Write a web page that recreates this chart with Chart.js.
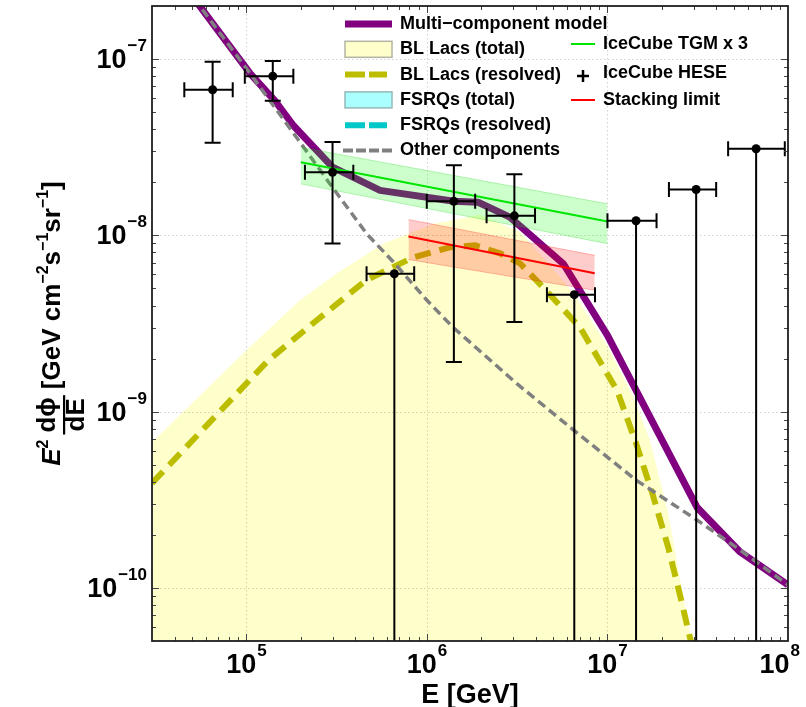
<!DOCTYPE html>
<html lang="en">
<head>
<meta charset="UTF-8">
<title>Diffuse neutrino flux - multi-component model</title>
<script src="https://cdn.jsdelivr.net/npm/chart.js"></script>
<style>
  html, body { margin: 0; padding: 0; background: #ffffff; }
  #wrap { width: 806px; height: 707px; }
</style>
</head>
<body>
<div id="wrap"><canvas id="fluxChart" width="806" height="707"></canvas></div>
<script>
// ---- data (E in GeV, flux in GeV cm^-2 s^-1 sr^-1) ----
const heseE      = [6.5e4, 1.4e5, 3.0e5, 6.6e5, 1.41e6, 3.05e6, 6.55e6, 1.44e7, 3.1e7, 6.66e7];
const heseELo    = [4.53e4, 9.8e4, 2.11e5, 4.63e5, 9.98e5, 2.14e6, 4.62e6, 1.0e7, 2.19e7, 4.66e7];
const heseEHi    = [8.4e4, 1.82e5, 3.91e5, 8.5e5, 1.85e6, 3.97e6, 8.53e6, 1.87e7, 4.0e7, 9.6e7];
const heseFlux   = [6.7e-8, 8.0e-8, 2.28e-8, 6.06e-9, 1.56e-8, 1.29e-8, 4.61e-9, 1.21e-8, 1.82e-8, 3.1e-8];
const heseFluxLo = [3.35e-8, 5.8e-8, 9.0e-9, 1e-12, 1.91e-9, 3.22e-9, 1e-12, 1e-12, 1e-12, 1e-12];
const heseFluxHi = [9.66e-8, 9.75e-8, 3.39e-8, 6.06e-9, 2.5e-8, 2.22e-8, 4.61e-9, 1.21e-8, 1.82e-8, 3.1e-8];

const modelE    = [3e4, 1.05e5, 1.44e5, 1.82e5, 3.0e5, 5.5e5, 1.41e6, 1.92e6, 2.88e6, 5.7e6, 1e7, 3.13e7, 5.43e7, 1e8];
const modelFlux = [4.6e-7, 8.27e-8, 5.8e-8, 4.2e-8, 2.44e-8, 1.8e-8, 1.56e-8, 1.54e-8, 1.27e-8, 6.9e-9, 2.71e-9, 2.87e-10, 1.6e-10, 1.04e-10];

const otherE    = [3e4, 1.05e5, 1.98e5, 3.0e5, 4.64e5, 6.66e5, 1e6, 1.4e6, 3.15e6, 6.5e6, 1.44e7, 3.13e7, 5.43e7, 1e8];
const otherFlux = [4.6e-7, 8.27e-8, 3.38e-8, 1.87e-8, 1.02e-8, 6.9e-9, 4.28e-9, 3.0e-9, 1.44e-9, 7.85e-10, 4.09e-10, 2.43e-10, 1.64e-10, 1.04e-10];

const blTotalE    = [3e4, 1e5, 1.98e5, 3.16e5, 5.73e5, 1.08e6, 1.97e6, 3.28e6, 4.81e6, 6.61e6, 1e7, 1.39e7, 1.72e7, 2.17e7, 2.98e7];
const blTotalFlux = [6.7e-10, 2.23e-9, 4.28e-9, 6.08e-9, 8.97e-9, 1.16e-8, 1.31e-8, 1.04e-8, 6.76e-9, 4.57e-9, 2.35e-9, 1.21e-9, 6.89e-10, 2.66e-10, 4.4e-11];

const blResE    = [3e4, 1.32e5, 2.34e5, 4.6e5, 8.37e5, 1.34e6, 1.85e6, 2.54e6, 3.28e6, 4.4e6, 7.05e6, 1.13e7, 1.44e7, 1.77e7, 2.17e7, 2.56e7, 2.98e7];
const blResFlux = [3.93e-10, 1.95e-9, 3.17e-9, 5.56e-9, 7.5e-9, 8.55e-9, 8.77e-9, 7.9e-9, 6.93e-9, 5.07e-9, 3.0e-9, 1.32e-9, 6.62e-10, 3.45e-10, 1.7e-10, 8.55e-11, 4.4e-11];

const tgmE    = [2e5, 1e7];
const tgmFlux = [2.6e-8, 1.2e-8];
const tgmHi   = [3.16e-8, 1.51e-8];
const tgmLo   = [1.96e-8, 8.97e-9];

const stackE    = [7.9e5, 8.5e6];
const stackFlux = [9.86e-9, 6.1e-9];
const stackHi   = [1.23e-8, 7.7e-9];
const stackLo   = [7.29e-9, 4.88e-9];

const xTickExp = [5, 6, 7, 8];
const yTickExp = [-7, -8, -9, -10];

const legendLeft  = ['Multi\u2212component model', 'BL Lacs (total)', 'BL Lacs (resolved)', 'FSRQs (total)', 'FSRQs (resolved)', 'Other components'];
const legendRight = ['IceCube TGM x 3', 'IceCube HESE', 'Stacking limit'];

const FONT = '"Liberation Sans", Arial, sans-serif';

const pts = (xs, ys) => xs.map((x, i) => ({ x: x, y: ys[i] }));

function supText(e) {
    return e < 0 ? '\u2212' + Math.abs(e) : String(e);
}

// dotted grid at the decades, drawn right after the yellow fill so it shows through it
const gridPlugin = {
    id: 'gridLines',
    afterDatasetDraw(chart, args) {
        if (args.index !== 10) return;
        const { ctx, chartArea: a, scales: { x, y } } = chart;
        ctx.save();
        ctx.strokeStyle = 'rgba(0,0,0,0.18)';
        ctx.lineWidth = 1;
        ctx.setLineDash([1.5, 2.5]);
        xTickExp.forEach(e => {
            const px = Math.round(x.getPixelForValue(Math.pow(10, e))) + 0.5;
            if (px >= a.right - 1) return;
            ctx.beginPath(); ctx.moveTo(px, a.top); ctx.lineTo(px, a.bottom); ctx.stroke();
        });
        yTickExp.forEach(e => {
            const py = Math.round(y.getPixelForValue(Math.pow(10, e))) + 0.5;
            ctx.beginPath(); ctx.moveTo(a.left, py); ctx.lineTo(a.right, py); ctx.stroke();
        });
        ctx.restore();
    }
};

// error bars for the HESE points
const errorBarPlugin = {
    id: 'errorBars',
    afterDatasetsDraw(chart) {
        const { ctx, chartArea: a, scales: { x, y } } = chart;
        ctx.save();
        ctx.beginPath();
        ctx.rect(a.left, a.top, a.width, a.height);
        ctx.clip();
        ctx.strokeStyle = '#000';
        ctx.lineWidth = 2;
        for (let i = 0; i < heseE.length; i++) {
            const px = x.getPixelForValue(heseE[i]);
            const py = y.getPixelForValue(heseFlux[i]);
            const x0 = x.getPixelForValue(heseELo[i]);
            const x1 = x.getPixelForValue(heseEHi[i]);
            const y0 = y.getPixelForValue(heseFluxLo[i]);
            const y1 = y.getPixelForValue(heseFluxHi[i]);
            ctx.beginPath();
            ctx.moveTo(x0, py); ctx.lineTo(x1, py);
            ctx.moveTo(x0, py - 7.5); ctx.lineTo(x0, py + 7.5);
            ctx.moveTo(x1, py - 7.5); ctx.lineTo(x1, py + 7.5);
            ctx.moveTo(px, y1); ctx.lineTo(px, y0);
            if (y1 < py - 1) { ctx.moveTo(px - 8, y1); ctx.lineTo(px + 8, y1); }
            if (y0 < a.bottom) { ctx.moveTo(px - 8, y0); ctx.lineTo(px + 8, y0); }
            ctx.stroke();
        }
        ctx.restore();
    }
};

// frame, inward ticks, tick labels, axis titles and the legend
const decorPlugin = {
    id: 'decor',
    afterDraw(chart) {
        const { ctx, chartArea: a, scales: { x, y } } = chart;
        ctx.save();

        // ticks on all four sides
        ctx.strokeStyle = '#444';
        ctx.lineWidth = 1;
        for (let e = 4; e <= 8; e++) {
            for (let k = 1; k <= 9; k++) {
                const v = k * Math.pow(10, e);
                if (v < x.min * 1.001 || v > x.max * 0.999) continue;
                const px = Math.round(x.getPixelForValue(v)) + 0.5;
                const len = k === 1 ? 7 : 4;
                ctx.beginPath();
                ctx.moveTo(px, a.bottom); ctx.lineTo(px, a.bottom - len);
                ctx.moveTo(px, a.top); ctx.lineTo(px, a.top + len);
                ctx.stroke();
            }
        }
        for (let e = -11; e <= -7; e++) {
            for (let k = 1; k <= 9; k++) {
                const v = k * Math.pow(10, e);
                if (v < y.min * 1.001 || v > y.max * 0.999) continue;
                const py = Math.round(y.getPixelForValue(v)) + 0.5;
                const len = k === 1 ? 7 : 4;
                ctx.beginPath();
                ctx.moveTo(a.left, py); ctx.lineTo(a.left + len, py);
                ctx.moveTo(a.right, py); ctx.lineTo(a.right - len, py);
                ctx.stroke();
            }
        }
        ctx.strokeStyle = '#1e1e1e';
        ctx.lineWidth = 1.8;
        ctx.strokeRect(a.left, a.top, a.width, a.height);

        // tick labels 10^n
        const bigF = 'bold 27px ' + FONT;
        const supF = 'bold 17px ' + FONT;
        ctx.fillStyle = '#000';
        ctx.textBaseline = 'alphabetic';
        ctx.textAlign = 'left';
        xTickExp.forEach(e => {
            const px = x.getPixelForValue(Math.pow(10, e));
            ctx.font = bigF; const w1 = ctx.measureText('10').width;
            ctx.font = supF; const w2 = ctx.measureText(supText(e)).width;
            let start = px - (w1 + w2 + 1) / 2;
            // keep the last label inside the canvas, as in the original frame
            if (start + w1 + w2 + 1 > 800) start = 800 - (w1 + w2 + 1);
            ctx.font = bigF; ctx.fillText('10', start, 673);
            ctx.font = supF; ctx.fillText(supText(e), start + w1 + 1, 656);
        });
        yTickExp.forEach(e => {
            const py = y.getPixelForValue(Math.pow(10, e));
            ctx.font = bigF; const w1 = ctx.measureText('10').width;
            ctx.font = supF; const w2 = ctx.measureText(supText(e)).width;
            const start = 147 - (w1 + w2 + 1);
            ctx.font = bigF; ctx.fillText('10', start, py + 9);
            ctx.font = supF; ctx.fillText(supText(e), start + w1 + 1, py - 8);
        });

        // x title
        ctx.font = 'bold 27px ' + FONT;
        ctx.textAlign = 'center';
        ctx.fillText('E [GeV]', (a.left + a.right) / 2, 703);

        // y title (rotated)
        drawYTitle(ctx, (a.top + a.bottom) / 2);

        // legend
        drawLegend(ctx);
        ctx.restore();
    }
};

function drawYTitle(ctx, cy) {
    const mainF = 'bold 26px ' + FONT;
    const italF = 'italic bold 26px ' + FONT;
    const supF = 'bold 16px ' + FONT;
    const parts = [
        { t: 'E', f: italF, dy: 0 },
        { t: '2', f: supF, dy: -12, gap: 5 },
        { frac: true, gap: 6 },
        { t: '[GeV cm', f: mainF, dy: 0 },
        { t: '\u22122', f: supF, dy: -12 },
        { t: 's', f: mainF, dy: 0 },
        { t: '\u22121', f: supF, dy: -12 },
        { t: 'sr', f: mainF, dy: 0 },
        { t: '\u22121', f: supF, dy: -12 },
        { t: ']', f: mainF, dy: 0 }
    ];
    ctx.save();
    ctx.font = mainF;
    const wNum = ctx.measureText('d\u03d5').width;
    const wDen = ctx.measureText('dE').width;
    const wFrac = Math.max(wNum, wDen) + 4;
    let total = 0;
    parts.forEach(p => {
        if (p.frac) { p.w = wFrac; } else { ctx.font = p.f; p.w = ctx.measureText(p.t).width; }
        total += p.w + (p.gap || 0);
    });
    ctx.translate(60, cy);
    ctx.rotate(-Math.PI / 2);
    ctx.textAlign = 'left';
    ctx.textBaseline = 'alphabetic';
    ctx.fillStyle = '#000';
    let u = -total / 2;
    parts.forEach(p => {
        if (p.frac) {
            ctx.font = mainF;
            ctx.fillText('d\u03d5', u + (p.w - wNum) / 2, -5);
            ctx.fillRect(u, 3, p.w, 2.2);
            ctx.fillText('dE', u + (p.w - wDen) / 2, 24);
        } else {
            ctx.font = p.f;
            ctx.fillText(p.t, u, p.dy);
        }
        u += p.w + (p.gap || 0);
    });
    ctx.restore();
}

function drawLegend(ctx) {
    ctx.save();
    ctx.font = 'bold 18px ' + FONT;
    ctx.textAlign = 'left';
    ctx.textBaseline = 'middle';
    ctx.fillStyle = '#000';
    const x0 = 345, x1 = 392, tx = 400;
    legendLeft.forEach((label, i) => {
        const ry = 24 + i * 25.3;
        ctx.save();
        ctx.setLineDash([]);
        if (i === 0) {
            ctx.strokeStyle = '#800080'; ctx.lineWidth = 7;
            ctx.beginPath(); ctx.moveTo(x0, ry); ctx.lineTo(x1, ry); ctx.stroke();
        } else if (i === 1 || i === 3) {
            ctx.fillStyle = i === 1 ? '#ffffcc' : '#aaffff';
            ctx.strokeStyle = i === 1 ? '#b4b4a4' : '#94b8b8';
            ctx.lineWidth = 1.5;
            ctx.fillRect(x0, ry - 8, x1 - x0, 16);
            ctx.strokeRect(x0, ry - 8, x1 - x0, 16);
        } else if (i === 2 || i === 4) {
            ctx.strokeStyle = i === 2 ? '#bdbd00' : '#00c8c8'; ctx.lineWidth = 6;
            ctx.setLineDash([20, 4]);
            ctx.beginPath(); ctx.moveTo(x0, ry); ctx.lineTo(x1 - 5, ry); ctx.stroke();
        } else {
            ctx.strokeStyle = '#808080'; ctx.lineWidth = 4;
            ctx.setLineDash([10, 3]);
            ctx.beginPath(); ctx.moveTo(x0 - 2, ry); ctx.lineTo(x1, ry); ctx.stroke();
        }
        ctx.restore();
        ctx.fillText(label, tx, ry);
    });
    const rows = [44, 73, 100];
    legendRight.forEach((label, i) => {
        const ry = rows[i];
        ctx.save();
        if (i === 1) {
            ctx.strokeStyle = '#000'; ctx.lineWidth = 2.5;
            ctx.beginPath();
            ctx.moveTo(577, ry + 3); ctx.lineTo(589, ry + 3);
            ctx.moveTo(583, ry - 3); ctx.lineTo(583, ry + 9);
            ctx.stroke();
        } else {
            ctx.strokeStyle = i === 0 ? '#00e600' : '#ff0000'; ctx.lineWidth = 2;
            ctx.beginPath(); ctx.moveTo(571, ry); ctx.lineTo(595, ry); ctx.stroke();
        }
        ctx.restore();
        ctx.fillText(label, 603, ry);
    });
    ctx.restore();
}

const lineBase = { pointRadius: 0, fill: false, tension: 0, clip: 0 };

const ctx = document.getElementById('fluxChart').getContext('2d');
const fluxChart = new Chart(ctx, {
    type: 'line',
    data: {
        datasets: [
            { label: 'IceCube HESE', data: pts(heseE, heseFlux), showLine: false, pointRadius: 4.5,
              pointBackgroundColor: '#000', pointBorderColor: '#000', pointBorderWidth: 0, clip: 0, order: 0 },
            Object.assign({ label: 'Stacking limit', data: pts(stackE, stackFlux), borderColor: '#ff0000', borderWidth: 2, order: 1 }, lineBase),
            Object.assign({ label: 'IceCube TGM x 3', data: pts(tgmE, tgmFlux), borderColor: '#00e600', borderWidth: 2, order: 2 }, lineBase),
            Object.assign({ label: 'stack hi', data: pts(stackE, stackHi), borderColor: 'rgba(255,0,0,0.25)', borderWidth: 1, order: 3 }, lineBase,
                          { fill: '+1', backgroundColor: 'rgba(255,0,0,0.2)' }),
            Object.assign({ label: 'stack lo', data: pts(stackE, stackLo), borderColor: 'rgba(255,0,0,0.25)', borderWidth: 1, order: 3 }, lineBase),
            Object.assign({ label: 'tgm hi', data: pts(tgmE, tgmHi), borderColor: 'rgba(0,200,0,0.25)', borderWidth: 1, order: 4 }, lineBase,
                          { fill: '+1', backgroundColor: 'rgba(0,255,0,0.2)' }),
            Object.assign({ label: 'tgm lo', data: pts(tgmE, tgmLo), borderColor: 'rgba(0,200,0,0.25)', borderWidth: 1, order: 4 }, lineBase),
            Object.assign({ label: 'Other components', data: pts(otherE, otherFlux), borderColor: '#808080', borderWidth: 3.5,
                            borderDash: [9, 5], order: 5 }, lineBase),
            Object.assign({ label: 'Multi-component model', data: pts(modelE, modelFlux), borderColor: '#800080', borderWidth: 7,
                            borderJoinStyle: 'round', order: 6 }, lineBase),
            Object.assign({ label: 'BL Lacs (resolved)', data: pts(blResE, blResFlux), borderColor: '#bdbd00', borderWidth: 6,
                            borderDash: [16, 9], order: 7 }, lineBase),
            Object.assign({ label: 'BL Lacs (total)', data: pts(blTotalE, blTotalFlux), borderColor: 'rgba(0,0,0,0)', borderWidth: 0, order: 8 }, lineBase,
                          { fill: 'start', backgroundColor: '#ffffcc' })
        ]
    },
    options: {
        responsive: false,
        devicePixelRatio: 1,
        animation: false,
        layout: { padding: { left: 152, right: 18, top: 6, bottom: 66 } },
        scales: {
            x: { type: 'logarithmic', min: 3e4, max: 1e8, display: false },
            y: { type: 'logarithmic', min: 5e-11, max: 2e-7, display: false }
        },
        plugins: {
            legend: { display: false },
            tooltip: { enabled: false }
        }
    },
    plugins: [gridPlugin, errorBarPlugin, decorPlugin]
});
</script>
</body>
</html>
